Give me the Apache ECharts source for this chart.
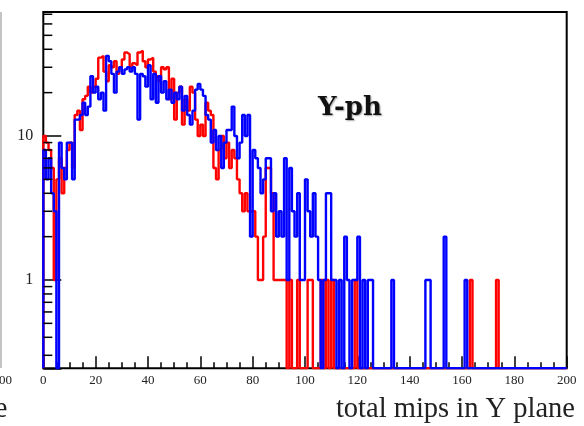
<!DOCTYPE html>
<html>
<head>
<meta charset="utf-8">
<script src="https://cdn.jsdelivr.net/npm/echarts@6/dist/echarts.min.js"></script>
<style>
  html, body { margin: 0; padding: 0; background: #fff; }
  #chart { width: 584px; height: 426px; }
</style>
</head>
<body>
<div id="chart"></div>
<script>
// Histogram axis range: 200 bins of width 1 from 0 to 200
const X_MIN = 0;
const X_MAX = 200;
const BIN_WIDTH = 1;
const X_TICK_LABELS = ['0', '20', '40', '60', '80', '100', '120', '140', '160', '180', '200'];

// Log y range of the frame
const Y_MIN = 0.2437;
const Y_MAX = 72.6;
const Y_MAJOR_TICKS = [1, 10];
const Y_MINOR_TICKS = [0.3, 0.4, 0.5, 0.6, 0.7, 0.8, 0.9, 2, 3, 4, 5, 6, 7, 8, 9, 20, 30, 40, 50, 60, 70];

// Entries per bin, red sample
const redCounts = [
  10, 9, 8, 6, 1, 5, 7, 4, 6, 8,
  9, 6, 14, 15, 11, 18, 19, 22, 20, 22,
  25, 35, 36, 28, 24, 31, 30, 33, 27, 30,
  34, 38, 37, 30, 32, 31, 38, 39, 33, 30,
  34, 35, 28, 26, 24, 30, 29, 30, 18, 25,
  13, 20, 22, 12, 18, 15, 22, 20, 13, 10,
  12, 10, 17, 15, 14, 6, 5, 8, 10, 7,
  9, 6, 8, 7, 5, 4, 3, 4, 3, 3,
  3, 2, 1, 1, 2, 6, 6, 4, 1, 1,
  1, 1, 1, 0, 1, 0, 0, 1, 0, 0,
  0, 1, 1, 0, 0, 0, 1, 0, 1, 0,
  1, 0, 0, 0, 0, 0, 0, 0, 0, 1,
  0, 0, 0, 0, 0, 0, 0, 0, 0, 0,
  0, 0, 0, 0, 0, 0, 0, 0, 0, 0,
  0, 0, 0, 0, 0, 0, 0, 0, 0, 0,
  0, 0, 0, 0, 0, 0, 0, 0, 0, 0,
  0, 0, 0, 1, 0, 0, 0, 0, 0, 0,
  0, 0, 0, 1, 0, 0, 0, 0, 0, 0,
  0, 0, 0, 0, 0, 0, 0, 0, 0, 0,
  0, 0, 0, 0, 0, 0, 0, 0, 0, 0
];

// Entries per bin, blue sample
const blueCounts = [
  8, 5, 7, 4, 3, 0, 9, 6, 5, 9,
  9, 5, 13, 13, 14, 17, 14, 16, 26, 20,
  22, 18, 20, 15, 36, 33, 27, 20, 28, 30,
  27, 29, 30, 28, 30, 27, 13, 27, 26, 22,
  31, 18, 27, 17, 26, 20, 24, 18, 21, 17,
  20, 18, 22, 15, 19, 14, 12, 15, 21, 23,
  21, 19, 14, 13, 9, 11, 8, 10, 6, 9,
  11, 11, 16, 10, 7, 9, 14, 10, 14, 2,
  8, 7, 6, 4, 5, 7, 7, 3, 4, 2,
  3, 2, 7, 1, 6, 3, 2, 4, 1, 1,
  5, 3, 2, 4, 2, 1, 0, 1, 4, 4,
  1, 1, 0, 1, 0, 2, 1, 0, 1, 1,
  2, 0, 1, 0, 1, 1, 0, 0, 0, 0,
  0, 0, 0, 1, 0, 0, 0, 0, 0, 0,
  0, 0, 0, 0, 0, 0, 1, 1, 0, 0,
  0, 0, 0, 2, 0, 0, 0, 0, 0, 0,
  0, 1, 0, 0, 0, 0, 0, 0, 0, 0,
  0, 0, 0, 0, 0, 0, 0, 0, 0, 0,
  0, 0, 0, 0, 0, 0, 0, 0, 0, 0,
  0, 0, 0, 0, 0, 0, 0, 0, 0, 0
];

// Outline of a histogram: starts and ends on the frame floor; empty bins sit on the floor
function outline(counts) {
  const lv = c => (c > 0 ? c : Y_MIN);
  const pts = [[X_MIN, Y_MIN]];
  counts.forEach((c, i) => pts.push([X_MIN + i * BIN_WIDTH, lv(c)]));
  pts.push([X_MIN + counts.length * BIN_WIDTH, lv(counts[counts.length - 1])]);
  pts.push([X_MIN + counts.length * BIN_WIDTH, Y_MIN]);
  return pts;
}

const chart = echarts.init(document.getElementById('chart'), null, { renderer: 'canvas' });

const SERIF = '"Liberation Serif", "DejaVu Serif", serif';

chart.setOption({
  animation: false,
  backgroundColor: '#fff',
  grid: {
    left: 43.3, right: 17.3, top: 12, bottom: 57.7,
    show: true, borderColor: '#000', borderWidth: 2,
    containLabel: false, outerBoundsMode: 'none'
  },
  xAxis: {
    type: 'value', min: X_MIN, max: X_MAX, interval: 20,
    axisLine: { show: false },
    splitLine: { show: false },
    axisTick: { show: true, inside: true, length: 12, lineStyle: { color: '#000', width: 1.5 } },
    minorTick: { show: true, splitNumber: 4, length: 6, lineStyle: { color: '#000', width: 1.5 } },
    axisLabel: {
      margin: 6, fontFamily: SERIF, fontSize: 13, color: '#222',
      formatter: v => X_TICK_LABELS[Math.round((v - X_MIN) / 20)] || ''
    }
  },
  yAxis: {
    type: 'log', logBase: 10, min: Y_MIN, max: Y_MAX,
    axisLine: { show: false },
    splitLine: { show: false },
    axisTick: { show: true, inside: true, length: 18, lineStyle: { color: '#000', width: 1.5 } },
    axisLabel: {
      margin: 10, fontFamily: SERIF, fontSize: 16, color: '#222', padding: [4, 0, 0, 0],
      formatter: v => {
        const m = Y_MAJOR_TICKS.find(t => Math.abs(v - t) < 1e-6 * t);
        return m !== undefined ? String(m) : '';
      }
    }
  },
  series: [
    {
      name: 'red', type: 'line', step: 'end', data: outline(redCounts),
      showSymbol: false, symbol: 'none', sampling: 'none', clip: true, z: 3,
      lineStyle: { color: '#ff0000', width: 2.4 }
    },
    {
      name: 'blue', type: 'line', step: 'end', data: outline(blueCounts),
      showSymbol: false, symbol: 'none', sampling: 'none', clip: true, z: 4,
      lineStyle: { color: '#0000ff', width: 2.4 }
    },
    {
      // minor ticks of the log axis at 2..9 times each decade
      name: 'yMinorTicks', type: 'custom', z: 5, silent: true,
      data: Y_MINOR_TICKS.map(v => [X_MIN, v]),
      encode: { x: 0, y: 1 },
      renderItem: (params, api) => {
        const p = api.coord([X_MIN, api.value(1)]);
        return {
          type: 'line',
          shape: { x1: p[0], y1: p[1], x2: p[0] + 9, y2: p[1] },
          style: { stroke: '#000', lineWidth: 1.5 }
        };
      }
    }
  ],
  graphic: [
    {
      type: 'text', left: 318, top: 95, z: 10,
      style: {
        text: 'Y-ph', font: 'bold 26px "DejaVu Serif", serif', fill: '#111',
        textShadowColor: 'rgba(0,0,0,0.35)', textShadowBlur: 1.5, textShadowOffsetX: 1, textShadowOffsetY: 1
      }
    },
    {
      type: 'text', z: 10,
      style: {
        text: 'total mips in Y plane', x: 575, y: 410,
        font: '28.5px ' + SERIF, fill: '#222',
        align: 'right', verticalAlign: 'middle', textAlign: 'right', textVerticalAlign: 'middle'
      }
    },
    {
      type: 'text', z: 10,
      style: {
        text: '200', x: 12, y: 381,
        font: '13px ' + SERIF, fill: '#222',
        align: 'right', verticalAlign: 'middle', textAlign: 'right', textVerticalAlign: 'middle'
      }
    },
    {
      type: 'text', z: 10,
      style: {
        text: 'plane', x: 7.5, y: 410,
        font: '28.5px ' + SERIF, fill: '#222',
        align: 'right', verticalAlign: 'middle', textAlign: 'right', textVerticalAlign: 'middle'
      }
    },
    {
      type: 'line', z: 10,
      shape: { x1: 1, y1: 12, x2: 1, y2: 368 },
      style: { stroke: '#b0b0b0', lineWidth: 1.5 }
    }
  ]
});
</script>
</body>
</html>
